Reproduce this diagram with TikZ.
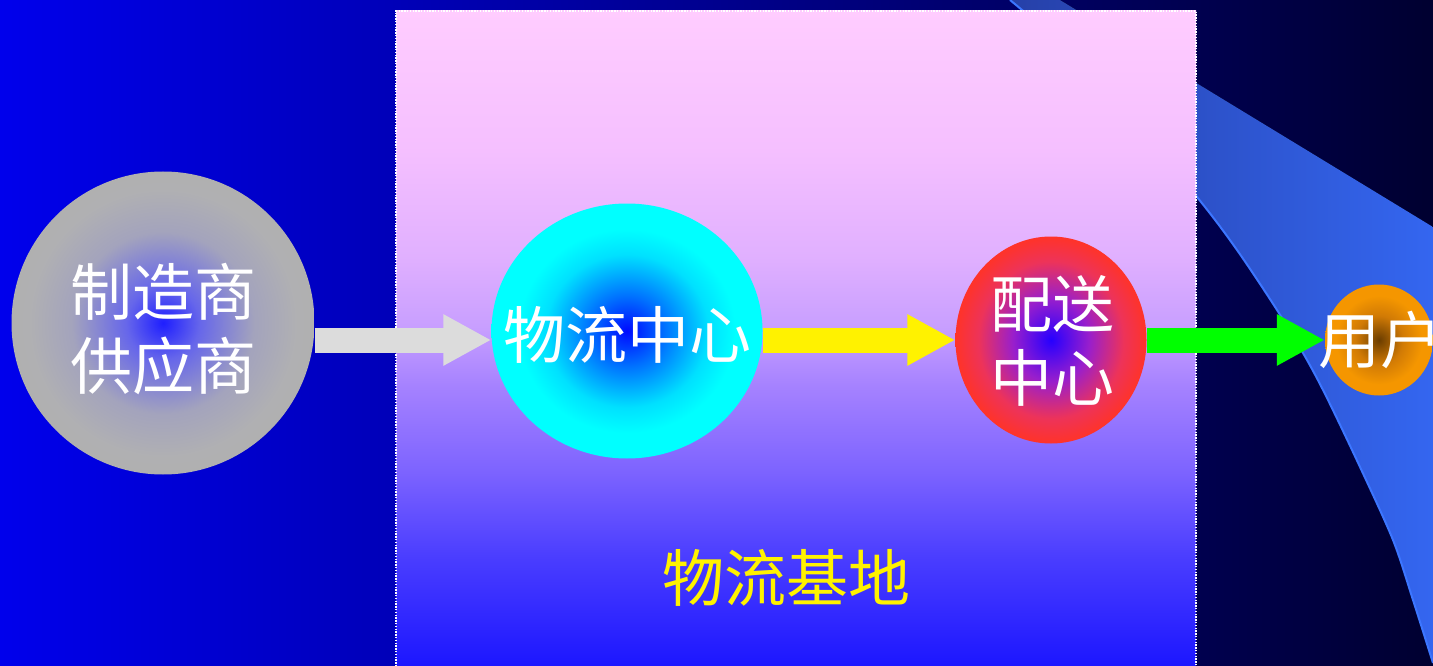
\documentclass[tikz,border=0pt]{standalone}
\usepackage{fontspec}
\newfontfamily\cjk{Noto Sans CJK SC}
\usetikzlibrary{shapes.geometric,arrows.meta}
\pgfdeclareradialshading{grayball}{\pgfpoint{0bp}{0bp}}{rgb(0bp)=(0.12,0.12,1); rgb(6bp)=(0.4,0.4,0.92); rgb(15bp)=(0.64,0.64,0.74); rgb(22bp)=(0.69,0.69,0.70); rgb(25bp)=(0.69,0.69,0.69); rgb(50bp)=(0.69,0.69,0.69)}
\pgfdeclareradialshading{cyanball}{\pgfpoint{0bp}{0bp}}{rgb(0bp)=(0,0.04,1); rgb(7bp)=(0,0.45,1); rgb(15bp)=(0,0.88,1); rgb(20bp)=(0,1,1); rgb(25bp)=(0,1,1); rgb(50bp)=(0,1,1)}
\pgfdeclareradialshading{redball}{\pgfpoint{0bp}{0bp}}{rgb(0bp)=(0.15,0,1); rgb(10bp)=(0.6,0.12,0.8); rgb(19bp)=(0.93,0.2,0.35); rgb(25bp)=(1,0.2,0.16); rgb(50bp)=(1,0.2,0.16)}
\pgfdeclareradialshading{orangeball}{\pgfpoint{0bp}{0bp}}{rgb(0bp)=(0.42,0.24,0); rgb(11bp)=(0.82,0.48,0.02); rgb(20bp)=(0.96,0.59,0); rgb(25bp)=(0.96,0.59,0); rgb(50bp)=(0.96,0.59,0)}
\pgfdeclareverticalshading{baseshade}{100bp}{rgb(0bp)=(0.08,0.07,1); rgb(25bp)=(0.1,0.08,1); rgb(33.7bp)=(0.29,0.24,1); rgb(40.2bp)=(0.49,0.39,1); rgb(46.7bp)=(0.65,0.51,1); rgb(50.9bp)=(0.78,0.62,1); rgb(56.4bp)=(0.88,0.69,1); rgb(64.4bp)=(0.96,0.75,1); rgb(75bp)=(1,0.8,1); rgb(100bp)=(1,0.8,1)}
\definecolor{arrgray}{RGB}{220,220,220}
\definecolor{bandL}{RGB}{38,64,168}
\definecolor{bandR}{RGB}{52,102,240}
\definecolor{bandedge}{RGB}{60,118,255}
\definecolor{bgL}{RGB}{0,0,236}
\definecolor{bgR}{RGB}{0,0,48}
\tikzset{
  ball/.style={ellipse, draw=none, inner sep=0pt},
  blockarr/.style={line width=25pt, -{Triangle[length=48pt,width=48pt]}},
  wtext/.style={text=white, align=center, inner sep=0pt, font=\cjk\fontsize{62}{74}\selectfont},
  ytext/.style={text=yellow, inner sep=0pt, font=\cjk\fontsize{62}{74}\selectfont}
}
\begin{document}
\begin{tikzpicture}[x=1pt,y=-1pt]
\useasboundingbox (0,0) rectangle (1433,666);
\clip (0,0) rectangle (1433,666);
% background
\fill[left color=bgL, right color=bgR] (0,0) rectangle (1433,666);
% curved band
\fill[left color=bandL, right color=bandR] (1060,0) -- (1433,227) -- (1433,663)
  -- plot[smooth] coordinates {(1433,663) (1413,600) (1393,540) (1360,467) (1328,400) (1307,360) (1277,310) (1237,250) (1197,197) (1100,80) (1010,0)} -- cycle;
\draw[bandedge, line width=2pt] plot[smooth] coordinates {(1433,663) (1413,600) (1393,540) (1360,467) (1328,400) (1307,360) (1277,310) (1237,250) (1197,197) (1100,80) (1010,0)};
% base rectangle
\fill[shading=baseshade] (396,11) rectangle (1196,672);
\draw[white, line width=1.2pt, dash pattern=on 1.4pt off 1.4pt] (396,672) -- (396,11) -- (1196,11) -- (1196,672);
% balls
\node[ball, shading=grayball, minimum width=303pt, minimum height=303pt] (a) at (163,323) {};
\node[ball, shading=cyanball, minimum width=271pt, minimum height=255pt] (b) at (627,331) {};
\node[ball, shading=redball, minimum width=191pt, minimum height=207pt] (c) at (1051,340) {};
\node[ball, shading=orangeball, minimum width=108pt, minimum height=111pt] (d) at (1379,340) {};
\coordinate (row) at (0,340);
% arrows
\draw[blockarr, arrgray] (a.east |- row) -- (b.west |- row);
\draw[blockarr, yellow] (b.east |- row) -- (c.west |- row);
\draw[blockarr, green] (c.east |- row) -- (d.west |- row);
% texts
\node[wtext] (ta) at (163,329) {制造商\\供应商};
\node[wtext] (tb) at (627,335) {物流中心};
\node[wtext] (tc) at (1052,341) {配送\\中心};
\node[wtext] (td) at (1380,340) {用户};
\node[ytext] (te) at (786,578) {物流基地};
\end{tikzpicture}
\end{document}
